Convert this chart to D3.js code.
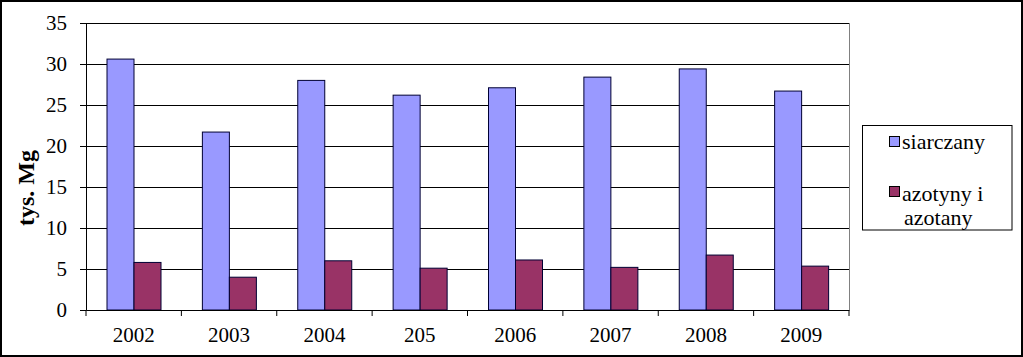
<!DOCTYPE html>
<html><head><meta charset="utf-8">
<script src="https://cdn.jsdelivr.net/npm/d3@7"></script>
<style>body{margin:0;background:#fff}svg{display:block}text{font-family:'Liberation Serif','Times New Roman',serif}</style>
</head><body>
<svg id="c" width="1023" height="357"></svg>
<script>
const categories = ["2002","2003","2004","205","2006","2007","2008","2009"];
const siarczany = [30.6, 21.7, 28.0, 26.2, 27.1, 28.4, 29.4, 26.7];
const azotyny = [5.8, 4.0, 6.0, 5.1, 6.1, 5.2, 6.7, 5.35];
const yTicks = [0,5,10,15,20,25,30,35];
const seriesNames = ["siarczany", "azotyny i", "azotany"];
const colors = ["#9999ff", "#993366"];

const svg = d3.select("#c");
const font = "'Liberation Serif','Times New Roman',serif";
svg.append("rect").attr("x",1).attr("y",1).attr("width",1021).attr("height",355)
  .attr("fill","#fff").attr("stroke","#000").attr("stroke-width",2);

const L=86, R=849, T=23, B=310;
const x = d3.scaleBand().domain(categories).range([L,R]);
const y = d3.scaleLinear().domain([0,35]).range([B,T]);

// gridlines
svg.append("g").selectAll("line").data(yTicks.filter(d=>d>0)).join("line")
  .attr("x1",L).attr("x2",R).attr("y1",d=>y(d)+0.5).attr("y2",d=>y(d)+0.5)
  .attr("stroke","#000").attr("stroke-width",1);
svg.append("line").attr("x1",R+0.5).attr("x2",R+0.5).attr("y1",T).attr("y2",B).attr("stroke","#808080");

const bw = 27, off = 21;
const g = svg.append("g");
g.selectAll(".b1").data(categories).join("rect")
  .attr("x",(d)=>x(d)+off).attr("width",bw)
  .attr("y",(d,i)=>y(siarczany[i])).attr("height",(d,i)=>B-y(siarczany[i]))
  .attr("fill",colors[0]).attr("stroke","#000033").attr("stroke-width",1);
g.selectAll(".b2").data(categories).join("rect")
  .attr("x",(d)=>x(d)+off+bw).attr("width",bw)
  .attr("y",(d,i)=>y(azotyny[i])).attr("height",(d,i)=>B-y(azotyny[i]))
  .attr("fill",colors[1]).attr("stroke","#000033").attr("stroke-width",1);

// y axis
const ya = svg.append("g").attr("transform",`translate(${L},0)`)
  .call(d3.axisLeft(y).tickValues(yTicks).tickSize(6).tickPadding(13));
ya.attr("font-family",null).attr("font-size",null);
ya.select(".domain").attr("stroke","#000");
ya.selectAll("text").style("font-family",font).style("font-size","21px").attr("fill","#000");

// x axis
const xa = svg.append("g").attr("transform",`translate(0,${B})`)
  .call(d3.axisBottom(x).tickSize(0).tickPadding(17));
xa.attr("font-family",null).attr("font-size",null);
xa.select(".domain").attr("stroke","#000");
xa.selectAll("text").style("font-family",font).style("font-size","21px").attr("fill","#000");
xa.append("g").selectAll("line").data(d3.range(categories.length+1)).join("line")
  .attr("x1",i=>L+i*x.step()).attr("x2",i=>L+i*x.step()).attr("y1",0).attr("y2",6).attr("stroke","#000");

svg.append("text").attr("transform","translate(34,188) rotate(-90)")
  .attr("text-anchor","middle").style("font-family",font).attr("font-weight","bold")
  .style("font-size","24px").text("tys. Mg");

// legend
const lg = svg.append("g");
lg.append("rect").attr("x",862.5).attr("y",125.5).attr("width",149.5).attr("height",104.5)
  .attr("fill","#fff").attr("stroke","#000");
lg.append("rect").attr("x",889.5).attr("y",136.5).attr("width",10).attr("height",10)
  .attr("fill",colors[0]).attr("stroke","#000");
lg.append("text").attr("x",902).attr("y",149).style("font-family",font).style("font-size","22px").text(seriesNames[0]);
lg.append("rect").attr("x",889.5).attr("y",186.5).attr("width",10).attr("height",10)
  .attr("fill",colors[1]).attr("stroke","#000");
lg.append("text").attr("x",902).attr("y",201).style("font-family",font).style("font-size","22px").text(seriesNames[1]);
lg.append("text").attr("x",904).attr("y",225).style("font-family",font).style("font-size","22px").text(seriesNames[2]);
</script>
</body></html>
